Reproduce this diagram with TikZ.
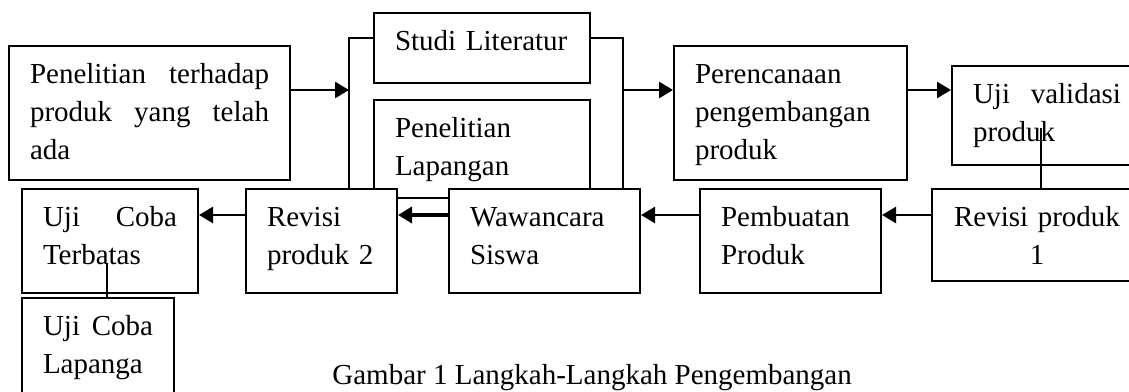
\documentclass[tikz,border=0pt]{standalone}
\usepackage{fontspec}
\setmainfont{Liberation Serif}
\usetikzlibrary{arrows.meta}

\tikzset{
  kotak/.style={draw, fill=white, line width=1pt, anchor=north west, align=left,
    inner xsep=10.5pt, inner ysep=0pt, text height=18.5pt},
  panah/.style={line width=1.3pt, -{Triangle[length=7pt,width=8pt]}},
  garis/.style={line width=1pt}
}

\begin{document}
\begin{tikzpicture}[x=0.5pt, y=-0.5pt, font=\fontsize{14.5}{19}\selectfont]
\useasboundingbox (0,0) rectangle (1129,391);

% baris atas
\node[kotak, text width=119.5pt, text depth=48.5pt] (ada) at (8,45) {Penelitian\hfill terhadap\\ produk\hfill yang\hfill telah\\ ada};
\node[kotak, text width=87pt, text depth=16.5pt] (studi) at (373,12) {Studi Literatur};
\node[kotak, text width=87pt, text depth=30.5pt] (lapangan) at (373,99) {Penelitian\\ Lapangan};
\node[kotak, text width=95.5pt, text depth=48.5pt] (rencana) at (673,45) {Perencanaan\\ pengembangan\\ produk};
\node[kotak, text width=74pt, text depth=31pt] (validasi) at (951,65) {Uji\hfill validasi\\ produk};

% baris bawah
\node[kotak, text width=67pt, text depth=33.5pt] (terbatas) at (21,188) {Uji\hfill Coba\\ Terbatas};
\node[kotak, text width=54.5pt, text depth=33.5pt] (revisi2) at (245,188) {Revisi\\ produk 2};
\node[kotak, text width=74.5pt, text depth=33.5pt] (wawancara) at (448,188) {Wawancara\\ Siswa};
\node[kotak, text width=69.5pt, text depth=33.5pt] (pembuatan) at (699,188) {Pembuatan\\ Produk};
\node[kotak, text width=84pt, text depth=27.5pt, align=center] (revisi1) at (931,188) {Revisi produk\\ 1};
\node[kotak, text width=55pt, text depth=53pt] (lapanga) at (21,297) {Uji\hfill Coba\\ Lapanga};

\node[anchor=base west, inner sep=0pt] (judul) at (332,384) {Gambar 1 Langkah-Langkah Pengembangan};

\coordinate (kiri) at (349,38);
\coordinate (kanan) at (623,38);
\coordinate (atas) at (0,90);
\coordinate (bawah) at (0,215);
\coordinate (ujung1) at (1041,128);
\coordinate (ujung2) at (107,263);

% kurung kiri dan kanan
\draw[garis] (studi.west |- kiri) -- (kiri) -- (kiri |- revisi2.north);
\draw[garis] (studi.east |- kanan) -- (kanan) -- (kanan |- wawancara.north);

\draw[panah] (ada.east |- atas) -- (kiri |- atas);
\draw[panah] (kanan |- atas) -- (rencana.west |- atas);
\draw[panah] (rencana.east |- atas) -- (validasi.west |- atas);
\draw[garis] (ujung1) -- (ujung1 |- revisi1.north);

\draw[panah] (revisi1.west |- bawah) -- (pembuatan.east |- bawah);
\draw[panah] (pembuatan.west |- bawah) -- (wawancara.east |- bawah);
\draw[panah, line width=2pt] (wawancara.west |- bawah) -- (revisi2.east |- bawah);
\draw[panah] (revisi2.west |- bawah) -- (terbatas.east |- bawah);
\draw[garis] (ujung2) -- (ujung2 |- lapanga.north);

\end{tikzpicture}
\end{document}
